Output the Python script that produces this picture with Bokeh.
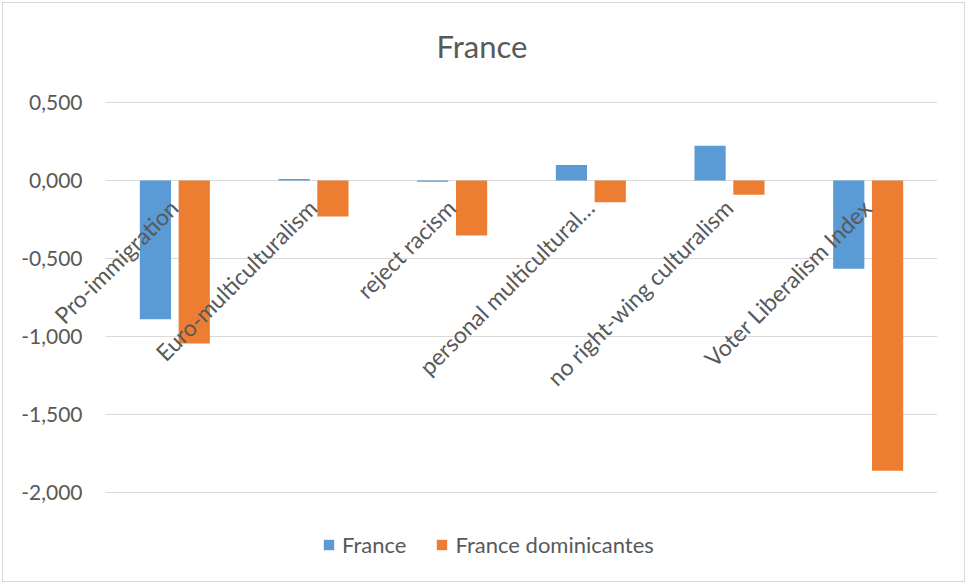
import math
from bokeh.plotting import figure
from bokeh.models import (ColumnDataSource, Range1d, FixedTicker, Grid,
                          CustomJSTickFormatter, Legend, LegendItem, Label,
                          LinearAxis, LinearScale)
from bokeh.transform import dodge
from bokeh.embed import file_html
from bokeh.resources import INLINE

categories = ["Pro-immigration", "Euro-multiculturalism", "reject racism",
              "personal multicultural\u2026", "no right-wing culturalism",
              "Voter Liberalism Index"]
france = [-0.890, 0.010, -0.008, 0.100, 0.222, -0.565]
france_dominicantes = [-1.045, -0.230, -0.352, -0.139, -0.092, -1.861]
y_ticks = [-2.0, -1.5, -1.0, -0.5, 0.0, 0.5]

GREY = "#595959"
BLUE = "#5B9BD5"
ORANGE = "#ED7D31"

n = len(categories)
slots = [i + 0.5 for i in range(n)]  # category slot centres
src = ColumnDataSource(dict(cat=categories, slot=slots, fr=france,
                            dom=france_dominicantes))

# layout constants (pixels): plot area is 832 px wide for the 6 slots,
# the frame starts 98 px left of it so that the slanted labels are not clipped
PX_PER_SLOT = 832 / n
LEFT_PAD = 98
x_start = -LEFT_PAD / PX_PER_SLOT
LABEL_SHIFT = -1 / PX_PER_SLOT

p = figure(width=963, height=580, output_backend="svg", toolbar_location=None,
           x_range=Range1d(x_start, n),
           y_range=Range1d(-2.5, 0.5 + 96 / 156),
           min_border_left=4, min_border_right=29,
           min_border_top=3, min_border_bottom=13)
p.title.visible = False
p.styles = {"margin-left": "2px", "margin-top": "2px",
            "border": "1px solid #d9d9d9"}

r1 = p.vbar(x=dodge("slot", -0.14), top="fr", width=0.225,
            source=src, fill_color=BLUE, line_color=None)
r2 = p.vbar(x=dodge("slot", 0.14), top="dom", width=0.225,
            source=src, fill_color=ORANGE, line_color=None)

# category labels: an axis drawn along the zero line, labels at 45 degrees
p.xaxis.visible = False
p.extra_x_ranges = {"lab": Range1d(x_start - LABEL_SHIFT, n - LABEL_SHIFT)}
p.extra_x_scales = {"lab": LinearScale()}
cat_axis = LinearAxis(x_range_name="lab", fixed_location=0,
                      ticker=FixedTicker(ticks=slots),
                      major_label_overrides={s: c for s, c in zip(slots, categories)},
                      major_label_orientation=math.pi / 4,
                      major_label_standoff=23,
                      major_label_text_font="Lato",
                      major_label_text_font_size="23px",
                      major_label_text_color=GREY,
                      axis_line_color=None, major_tick_line_color=None,
                      minor_tick_line_color=None, major_tick_out=0,
                      major_tick_in=0, minor_tick_out=0, minor_tick_in=0)
p.add_layout(cat_axis, "below")

# value axis drawn at the left edge of the plot area
p.yaxis.fixed_location = 0
p.yaxis.ticker = FixedTicker(ticks=y_ticks)
p.yaxis.formatter = CustomJSTickFormatter(code="return tick.toFixed(3).replace('.', ',');")
p.yaxis.axis_line_color = None
p.yaxis.major_tick_line_color = None
p.yaxis.minor_tick_line_color = None
p.yaxis.major_tick_out = 0
p.yaxis.major_tick_in = 0
p.yaxis.major_label_standoff = 23
p.yaxis.major_label_text_font = "Lato"
p.yaxis.major_label_text_font_size = "21px"
p.yaxis.major_label_text_color = GREY
p.outline_line_color = None

p.xgrid.grid_line_color = None
if "cross_bounds" in Grid.properties():
    p.ygrid.cross_bounds = (0, n)
    p.ygrid.grid_line_color = "#d9d9d9"
    p.ygrid.grid_line_width = 1
else:
    p.ygrid.grid_line_color = None
    p.segment(x0=[0] * len(y_ticks), x1=[n] * len(y_ticks), y0=y_ticks,
              y1=y_ticks, line_color="#d9d9d9", line_width=1, level="underlay")

title = Label(x=LEFT_PAD + 331, y=525, x_units="screen", y_units="screen",
              text="France", text_align="left", text_baseline="alphabetic",
              text_font="Lato", text_font_size="31px", text_color=GREY)
p.add_layout(title)

legend = Legend(items=[LegendItem(label="France", renderers=[r1]),
                       LegendItem(label="France dominicantes", renderers=[r2])],
                orientation="horizontal", location=(LEFT_PAD + 217, 12),
                glyph_width=13, glyph_height=13, label_standoff=7, spacing=29,
                padding=0, margin=0, border_line_color=None,
                background_fill_alpha=0,
                label_text_font="Lato", label_text_font_size="22px",
                label_text_color=GREY)
p.add_layout(legend, "center")

open("out.html", "w").write(file_html(p, INLINE))
